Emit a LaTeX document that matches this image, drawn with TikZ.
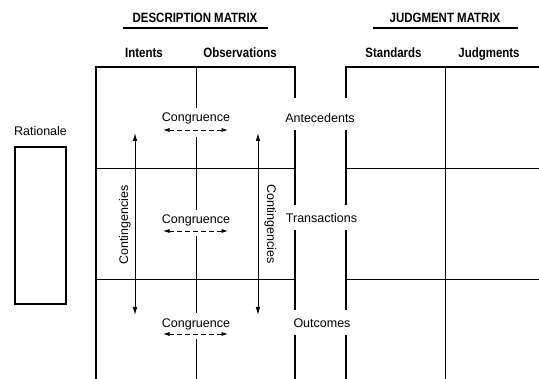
\documentclass[tikz,border=0pt]{standalone}
\usepackage{fontspec}
\setmainfont{Liberation Sans}
\newfontfamily\headfont{Liberation Sans}[FakeStretch=0.85]
\usetikzlibrary{arrows.meta}
\begin{document}
\begin{tikzpicture}[x=1pt,y=-1pt,
  lbl/.style={font=\fontsize{12.5}{14}\selectfont, inner sep=0pt, anchor=base},
  hd/.style={font=\headfont\bfseries\fontsize{13.5}{15}\selectfont, inner sep=0pt, anchor=base},
  frame/.style={line width=1.6pt},
  gridline/.style={line width=1pt},
  uline/.style={line width=1.3pt},
  arr/.style={line width=0.8pt, {Latex[length=8pt,width=4.5pt]}-{Latex[length=8pt,width=4.5pt]}},
  darr/.style={line width=0.8pt, dash pattern=on 5pt off 3pt, {Latex[length=6.5pt,width=4pt]}-{Latex[length=6.5pt,width=4pt]}}]
\useasboundingbox (0,0) rectangle (539,379);

% headings
\node[hd] (dm) at (195,23) {DESCRIPTION MATRIX};
\node[hd] (jm) at (445,23) {JUDGMENT MATRIX};
\coordinate (dmL) at (123,28); \coordinate (dmR) at (268,28);
\coordinate (jmL) at (373,28); \coordinate (jmR) at (518,28);
\draw[uline] (dmL) -- (dmR);
\draw[uline] (jmL) -- (jmR);

\node[hd] (int) at (144,58) {Intents};
\node[hd] (obs) at (240,58) {Observations};
\node[hd] (std) at (393.5,58) {Standards};
\node[hd] (jud) at (489,58) {Judgments};

% rationale
\node[lbl] (rat) at (40.5,136) {Rationale};
\node[draw, frame, minimum width=51pt, minimum height=157pt, inner sep=0pt] (rbox) at (40.5,225.5) {};

% description matrix frame
\coordinate (d1) at (96,379); \coordinate (d2) at (96,67); \coordinate (d3) at (295,67);
\draw[frame] (d1) -- (d2) -- (d3) -- (295,98);
\draw[frame] (295,130) -- (295,205);
\draw[frame] (295,230) -- (295,310);
\draw[frame] (295,335) -- (295,379);
\draw[gridline] (96,169) -- (295,169);
\draw[gridline] (96,280) -- (295,280);
\draw[gridline] (196,67) -- (196,108);
\draw[gridline] (196,137) -- (196,210);
\draw[gridline] (196,236) -- (196,313);
\draw[gridline] (196,339) -- (196,379);

% judgment matrix frame
\draw[frame] (346,98) -- (346,67) -- (539,67);
\draw[frame] (346,130) -- (346,205);
\draw[frame] (346,230) -- (346,310);
\draw[frame] (346,335) -- (346,379);
\draw[gridline] (346,169) -- (539,169);
\draw[gridline] (346,280) -- (539,280);
\draw[gridline] (445,67) -- (445,379);

% row labels
\node[lbl] (ant) at (320,123) {Antecedents};
\node[lbl] (tra) at (321.5,223) {Transactions};
\node[lbl] (out) at (322,328) {Outcomes};

% congruence
\node[lbl] (c1) at (196,122) {Congruence};
\node[lbl] (c2) at (196,224) {Congruence};
\node[lbl] (c3) at (196,328) {Congruence};
\coordinate (c1l) at (163,130); \coordinate (c1r) at (228,130);
\coordinate (c2l) at (163,231); \coordinate (c2r) at (228,231);
\coordinate (c3l) at (163,334); \coordinate (c3r) at (228,334);
\draw[darr] (c1l) -- (c1r);
\draw[darr] (c2l) -- (c2r);
\draw[darr] (c3l) -- (c3r);

% contingencies
\coordinate (k1t) at (135,133); \coordinate (k1b) at (135,315);
\coordinate (k2t) at (258,133); \coordinate (k2b) at (258,315);
\draw[arr] (k1t) -- (k1b);
\draw[arr] (k2t) -- (k2b);
\node[lbl, rotate=90] (kl) at (128,225) {Contingencies};
\node[lbl, rotate=-90] (kr) at (267,224) {Contingencies};
\end{tikzpicture}
\end{document}
